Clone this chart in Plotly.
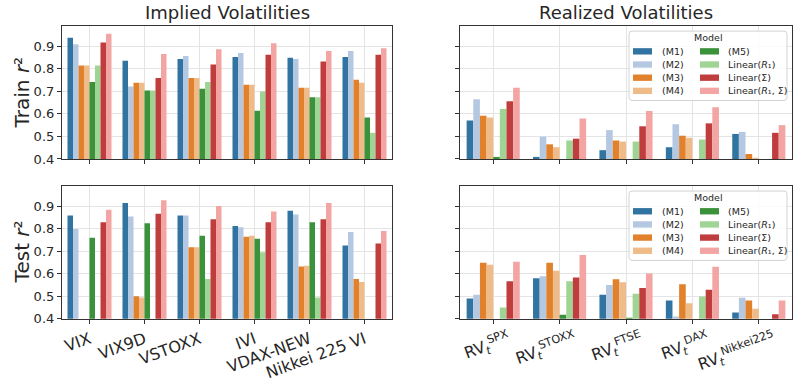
import plotly.graph_objects as go

# ---------------- data ----------------
iv_names = ["VIX", "VIX9D", "VSTOXX", "IVI", "VDAX-NEW", "Nikkei 225 VI"]
rv_names = ["SPX", "STOXX", "FTSE", "DAX", "Nikkei225"]
rv_ticktext = [f"RV<sub><i>t</i></sub><sup>{n}</sup>" for n in rv_names]

models = ["(M1)", "(M2)", "(M3)", "(M4)", "(M5)",
          "Linear(<i>R</i>₁)", "Linear(Σ)", "Linear(<i>R</i>₁, Σ)"]
colors = ["#3274a1", "#b5c8e1", "#e1812c", "#eebb89",
          "#3a923a", "#9fd495", "#c03d3e", "#f2a5a3"]

# Train r^2, implied volatilities (one list per model, one value per index)
train_iv_m1 = [0.938, 0.836, 0.844, 0.853, 0.849, 0.853]
train_iv_m2 = [0.909, 0.721, 0.857, 0.870, 0.844, 0.879]
train_iv_m3 = [0.815, 0.738, 0.759, 0.729, 0.716, 0.751]
train_iv_m4 = [0.815, 0.738, 0.759, 0.729, 0.716, 0.738]
train_iv_m5 = [0.742, 0.704, 0.712, 0.614, 0.674, 0.584]
train_iv_lr1 = [0.815, 0.704, 0.742, 0.699, 0.674, 0.516]
train_iv_ls = [0.917, 0.759, 0.819, 0.862, 0.832, 0.862]
train_iv_lrs = [0.956, 0.866, 0.887, 0.913, 0.879, 0.891]

# Test r^2, implied volatilities (None = below the plotted range)
test_iv_m1 = [0.859, 0.914, 0.859, 0.812, 0.880, 0.726]
test_iv_m2 = [0.799, 0.854, 0.859, 0.807, 0.863, 0.786]
test_iv_m3 = [None, 0.500, 0.718, 0.765, 0.632, 0.577]
test_iv_m4 = [None, 0.495, 0.718, 0.769, 0.636, 0.564]
test_iv_m5 = [0.760, 0.824, 0.769, 0.756, 0.829, None]
test_iv_lr1 = [None, None, 0.577, 0.696, 0.495, None]
test_iv_ls = [0.829, 0.867, 0.842, 0.829, 0.842, 0.735]
test_iv_lrs = [0.884, 0.927, 0.901, 0.876, 0.914, 0.790]

# Train r^2, realized volatilities
train_rv_m1 = [0.571, 0.409, 0.439, 0.452, 0.511]
train_rv_m2 = [0.665, 0.499, 0.528, 0.554, 0.520]
train_rv_m3 = [0.592, 0.465, 0.482, 0.503, 0.422]
train_rv_m4 = [0.584, 0.452, 0.477, 0.494, 0.405]
train_rv_m5 = [0.409, None, None, None, None]
train_rv_lr1 = [0.622, 0.482, 0.477, 0.486, None]
train_rv_ls = [0.656, 0.490, 0.545, 0.558, 0.516]
train_rv_lrs = [0.716, 0.579, 0.613, 0.630, 0.550]

# Test r^2, realized volatilities
test_rv_m1 = [0.490, 0.580, 0.507, 0.481, 0.428]
test_rv_m2 = [0.507, 0.589, 0.550, 0.410, 0.494]
test_rv_m3 = [0.649, 0.649, 0.576, 0.554, 0.481]
test_rv_m4 = [0.640, 0.614, 0.563, 0.469, 0.445]
test_rv_m5 = [None, 0.418, 0.405, None, None]
test_rv_lr1 = [0.450, 0.567, 0.511, 0.499, None]
test_rv_ls = [0.567, 0.584, 0.537, 0.529, 0.420]
test_rv_lrs = [0.653, 0.683, 0.601, 0.631, 0.481]

panels = [
    ("x", "y", iv_names, [train_iv_m1, train_iv_m2, train_iv_m3, train_iv_m4,
                          train_iv_m5, train_iv_lr1, train_iv_ls, train_iv_lrs]),
    ("x2", "y2", rv_names, [train_rv_m1, train_rv_m2, train_rv_m3, train_rv_m4,
                            train_rv_m5, train_rv_lr1, train_rv_ls, train_rv_lrs]),
    ("x3", "y3", iv_names, [test_iv_m1, test_iv_m2, test_iv_m3, test_iv_m4,
                            test_iv_m5, test_iv_lr1, test_iv_ls, test_iv_lrs]),
    ("x4", "y4", rv_names, [test_rv_m1, test_rv_m2, test_rv_m3, test_rv_m4,
                            test_rv_m5, test_rv_lr1, test_rv_ls, test_rv_lrs]),
]

# ---------------- layout geometry (pixels) ----------------
W, H = 795, 382
FONT = "DejaVu Sans"
INK = "#262626"


def fx(px):
    return px / W


def fy(py):
    return 1 - py / H


cols_px = {"L": (62, 392), "R": (460, 792)}
rows_px = {"T": (27, 165), "B": (193, 331)}

fig = go.Figure()

for xa, ya, cats, series in panels:
    for name, col, vals in zip(models, colors, series):
        fig.add_trace(go.Bar(
            x=cats, y=vals, name=name, marker=dict(color=col, line=dict(width=0)),
            xaxis=xa, yaxis=ya, showlegend=False,
        ))

axis_common = dict(
    showline=True, linecolor="#333333", linewidth=1.2, mirror=True,
    showgrid=True, gridcolor="#e4e4e4", gridwidth=1,
    ticks="outside", ticklen=4, tickwidth=1, tickcolor="#333333",
    zeroline=False, tickfont=dict(family=FONT, size=13, color=INK),
)

layout_axes = {}
specs = [("xaxis", "yaxis", "L", "T", iv_names, None, False),
         ("xaxis2", "yaxis2", "R", "T", rv_names, None, False),
         ("xaxis3", "yaxis3", "L", "B", iv_names, None, True),
         ("xaxis4", "yaxis4", "R", "B", rv_names, rv_ticktext, True)]
for i, (xk, yk, c, r, cats, ttext, showx) in enumerate(specs):
    x0, x1 = cols_px[c]
    y0, y1 = rows_px[r]
    yref = "y" if i == 0 else f"y{i + 1}"
    xref = "x" if i == 0 else f"x{i + 1}"
    xa = dict(axis_common)
    xa.update(domain=[fx(x0), fx(x1)], anchor=yref, type="category",
              range=[-0.5, len(cats) - 0.5], showticklabels=showx,
              tickangle=-20, tickfont=dict(family=FONT, size=16, color=INK))
    if ttext is not None:
        xa.update(tickmode="array", tickvals=cats, ticktext=ttext, ticklabelshift=15)
    ya = dict(axis_common)
    ya.update(domain=[fy(y1), fy(y0)], anchor=xref, range=[0.4, 0.99],
              tickmode="linear", tick0=0.4, dtick=0.1, tickformat=".1f",
              showticklabels=(c == "L"))
    layout_axes[xk] = xa
    layout_axes[yk] = ya

fig.update_layout(
    width=W, height=H, margin=dict(l=0, r=0, t=0, b=0),
    paper_bgcolor="white", plot_bgcolor="white",
    barmode="group", bargap=0.2, bargroupgap=0,
    font=dict(family=FONT, color=INK),
    showlegend=False,
    **layout_axes,
)

annotations = []
shapes = []

# column titles
for label, c in [("Implied Volatilities", "L"), ("Realized Volatilities", "R")]:
    x0, x1 = cols_px[c]
    annotations.append(dict(
        text=label, x=fx((x0 + x1) / 2), y=fy(13), xref="paper", yref="paper",
        xanchor="center", yanchor="middle", showarrow=False,
        font=dict(family=FONT, size=18, color=INK)))

# row titles
for label, r in [("Train <i>r</i>²", "T"), ("Test <i>r</i>²", "B")]:
    y0, y1 = rows_px[r]
    annotations.append(dict(
        text=label, x=fx(22), y=fy((y0 + y1) / 2), xref="paper", yref="paper",
        xanchor="center", yanchor="middle", textangle=-90, showarrow=False,
        font=dict(family=FONT, size=20, color=INK)))


def rounded_rect(x0, y0, x1, y1, rad):
    pts = [
        f"M {fx(x0 + rad)} {fy(y0)}", f"L {fx(x1 - rad)} {fy(y0)}",
        f"Q {fx(x1)} {fy(y0)} {fx(x1)} {fy(y0 + rad)}", f"L {fx(x1)} {fy(y1 - rad)}",
        f"Q {fx(x1)} {fy(y1)} {fx(x1 - rad)} {fy(y1)}", f"L {fx(x0 + rad)} {fy(y1)}",
        f"Q {fx(x0)} {fy(y1)} {fx(x0)} {fy(y1 - rad)}", f"L {fx(x0)} {fy(y0 + rad)}",
        f"Q {fx(x0)} {fy(y0)} {fx(x0 + rad)} {fy(y0)}", "Z",
    ]
    return " ".join(pts)


# legend box in each realized-volatility panel
LEG_FONT = 9.5
for r in ["T", "B"]:
    top = rows_px[r][0]
    shapes.append(dict(
        type="path", path=rounded_rect(629, top + 5.3, 787, top + 77.3, 3),
        xref="paper", yref="paper", layer="above",
        line=dict(color="#d3d3d3", width=1), fillcolor="rgba(255,255,255,0.85)"))
    annotations.append(dict(
        text="Model", x=fx(708), y=fy(top + 12.2), xref="paper", yref="paper",
        xanchor="center", yanchor="middle", showarrow=False,
        font=dict(family=FONT, size=LEG_FONT, color=INK)))
    for k, (name, col) in enumerate(zip(models, colors)):
        column, row = divmod(k, 4)
        sx0 = 633 if column == 0 else 700
        tx = 659.5 if column == 0 else 725.5
        cy = top + 26.3 + row * 13.67
        shapes.append(dict(
            type="rect", x0=fx(sx0), x1=fx(sx0 + 19), y0=fy(cy + 3.3), y1=fy(cy - 3.3),
            xref="paper", yref="paper", layer="above",
            line=dict(width=0), fillcolor=col))
        annotations.append(dict(
            text=name, x=fx(tx), y=fy(cy), xref="paper", yref="paper",
            xanchor="left", yanchor="middle", showarrow=False,
            font=dict(family=FONT, size=LEG_FONT, color=INK)))

fig.update_layout(annotations=annotations, shapes=shapes)

fig.write_html("out.html")
